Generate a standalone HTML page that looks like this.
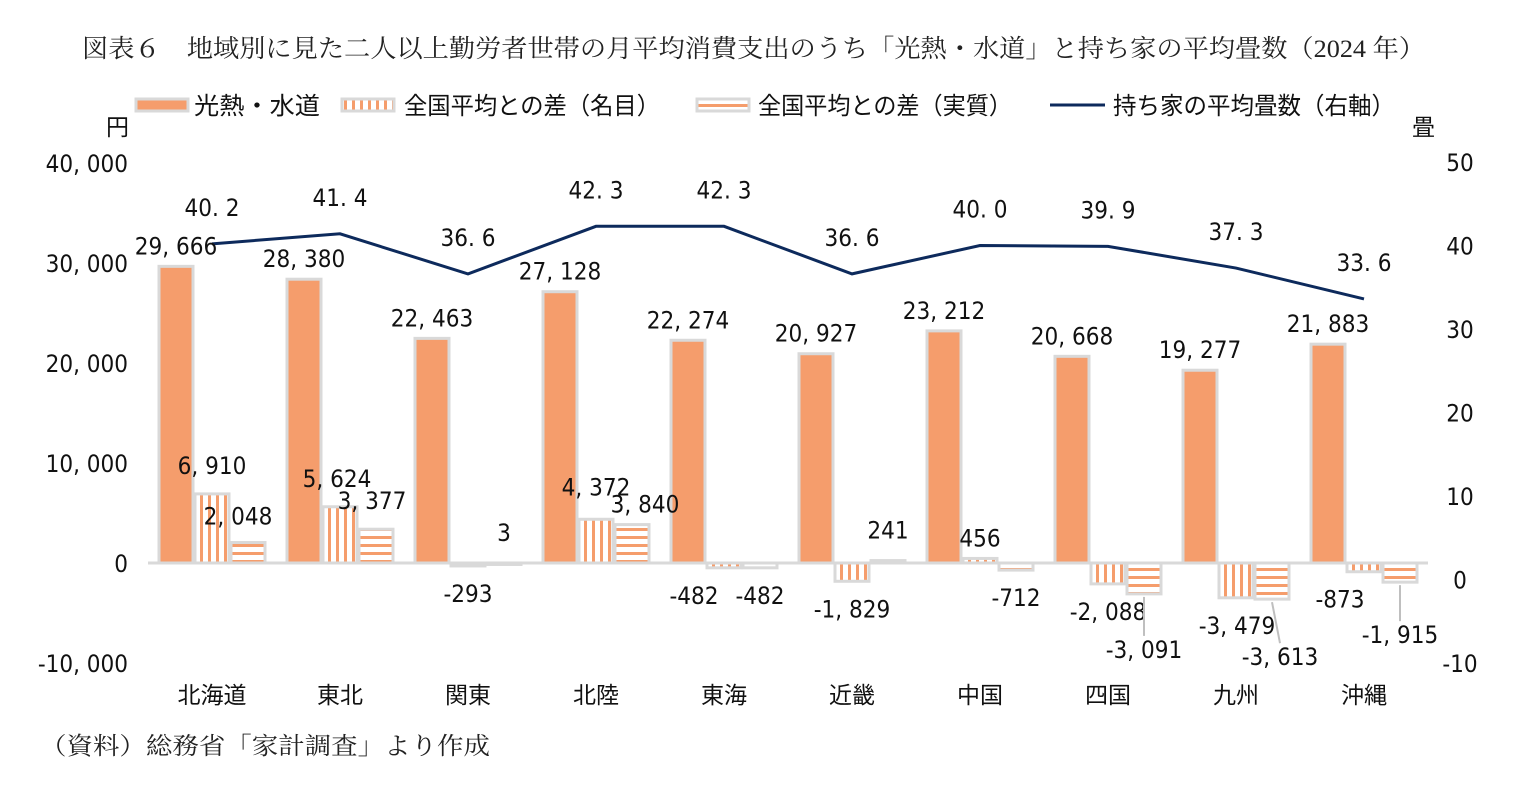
<!DOCTYPE html>
<html><head><meta charset="utf-8">
<style>
body{margin:0;background:#fff;}
svg{display:block;font-family:"Liberation Sans","Noto Sans CJK JP",sans-serif;}
.ser{font-family:"Liberation Serif","Noto Serif CJK SC",serif;}
.num{font-family:"Liberation Sans Narrow","DejaVu Sans Condensed","Liberation Sans",sans-serif;}
</style></head>
<body>
<svg id="c" width="1525" height="785" viewBox="0 0 1525 785">
<text class="ser" x="82" y="57" font-size="25" textLength="1343" lengthAdjust="spacingAndGlyphs" fill="#222">図表６　地域別に見た二人以上勤労者世帯の月平均消費支出のうち「光熱・水道」と持ち家の平均畳数（2024 年）</text>
<defs>
<pattern id="pv" width="8" height="8" patternUnits="userSpaceOnUse"><rect width="8" height="8" fill="#fff"/><rect x="0" width="3" height="8" fill="#f59d6c"/></pattern>
<pattern id="ph" width="8" height="8" patternUnits="userSpaceOnUse"><rect width="8" height="8" fill="#fff"/><rect y="0" width="8" height="3" fill="#f59d6c"/></pattern>
</defs>
<g>
<rect x="136" y="99" width="52" height="12" fill="#f59d6c" stroke="#d9d9d9" stroke-width="3"/>
<text x="194" y="114" font-size="24" textLength="126" lengthAdjust="spacingAndGlyphs" fill="#111">光熱・水道</text>
<rect x="342" y="99" width="52" height="12" fill="url(#pv)" stroke="#d9d9d9" stroke-width="3"/>
<text x="404" y="114" font-size="24" textLength="256" lengthAdjust="spacingAndGlyphs" fill="#111">全国平均との差（名目）</text>
<rect x="697" y="99" width="52" height="12" fill="url(#ph)" stroke="#d9d9d9" stroke-width="3"/>
<text x="758" y="114" font-size="24" textLength="254" lengthAdjust="spacingAndGlyphs" fill="#111">全国平均との差（実質）</text>
<line x1="1050" y1="105" x2="1105" y2="105" stroke="#0d2a5c" stroke-width="3"/>
<text x="1113" y="114" font-size="24" textLength="282" lengthAdjust="spacingAndGlyphs" fill="#111">持ち家の平均畳数（右軸）</text>
</g>
<text x="106" y="135" font-size="23" fill="#111">円</text>
<text x="1412" y="135" font-size="23" fill="#111">畳</text>
<g id="plot"></g>
<text class="ser" x="40" y="754" font-size="24" textLength="450" lengthAdjust="spacingAndGlyphs" fill="#222">（資料）総務省「家計調査」より作成</text>
</svg>
<script>
const categories=["北海道","東北","関東","北陸","東海","近畿","中国","四国","九州","沖縄"];
const utilities=[29666,28380,22463,27128,22274,20927,23212,20668,19277,21883];
const diffNominal=[6910,5624,-293,4372,-482,-1829,456,-2088,-3479,-873];
const diffReal=[2048,3377,3,3840,-482,241,-712,-3091,-3613,-1915];
const tatami=[40.2,41.4,36.6,42.3,42.3,36.6,40.0,39.9,37.3,33.6];
const leftTicks=[40000,30000,20000,10000,0,-10000];
const rightTicks=[50,40,30,20,10,0,-10];
// label nudges (layout only)
const nomDx=[0,-3,0,0,-30,0,0,0,1,-24];
const nomDy=[-8,-8,0,-12,0,0,0,0,0,0];
const realDx=[-10,-4,0,13,0,0,0,0,8,0];
const realDy=[-6,-8,-10,0,0,-10,0,28,30,25];
const NS="http://www.w3.org/2000/svg";
const g=document.getElementById('plot');
function yL(v){return 563-v*0.01;}
function yR(v){return 663-(v+10)*(501/60);}
function xC(i){return 212+i*128;}
function el(t,a,txt){const e=document.createElementNS(NS,t);for(const k in a)e.setAttribute(k,a[k]);if(txt!==undefined)e.textContent=txt;g.appendChild(e);return e;}
function fmt(v){const s=Math.abs(v).toLocaleString('en-US').replace(',',', ');return (v<0?'-':'')+s;}
leftTicks.forEach(t=>{const e=el('text',{class:'num',x:128,y:yL(t)+9,'font-size':24,'text-anchor':'end',fill:'#111'},fmt(t));

});
rightTicks.forEach(t=>{const e=el('text',{class:'num',x:1460,y:yR(t)+9,'font-size':24,'text-anchor':'middle',fill:'#111'},String(t));

});
const ax=el('line',{x1:148,x2:1428,y1:yL(0),y2:yL(0),stroke:'#d9d9d9','stroke-width':3});


function bar(x,v,fill,name){const y0=yL(0),y1=yL(v);const r=el('rect',{x:x,y:Math.min(y0,y1),width:34,height:Math.max(Math.abs(y1-y0),1.5),fill:fill,stroke:'#d9d9d9','stroke-width':3});

}
function lab(x,v,name,dx,dy){const y=(v>=0?yL(v)-12:yL(v)+36)+dy;
if(Math.abs(dy)>20){const l=el('line',{x1:x,x2:x+dx,y1:v>=0?yL(v):yL(v)+3,y2:v>=0?y+4:y-22,stroke:'#bfbfbf','stroke-width':2});

}
const t=el('text',{class:'num',x:x+dx,y:y,'font-size':24,'text-anchor':'middle',fill:'#111'},fmt(v));

}
categories.forEach((c,i)=>{const cx=xC(i);
bar(cx-53,utilities[i],'#f59d6c','bar-utilities');
bar(cx-17,diffNominal[i],'url(#pv)','bar-diff-nominal');
bar(cx+19,diffReal[i],'url(#ph)','bar-diff-real');
const t=el('text',{x:cx,y:703,'font-size':23,'text-anchor':'middle',fill:'#111'},c);

});
const pts=tatami.map((v,i)=>xC(i)+','+yR(v)).join(' ');
const pl=el('polyline',{points:pts,fill:'none',stroke:'#0d2a5c','stroke-width':3});


categories.forEach((c,i)=>{const cx=xC(i);
lab(cx-36,utilities[i],'label-utilities',0,0);
lab(cx,diffNominal[i],'label-diff-nominal',nomDx[i],nomDy[i]);
lab(cx+36,diffReal[i],'label-diff-real',realDx[i],realDy[i]);});
tatami.forEach((v,i)=>{const t=el('text',{class:'num',x:xC(i),y:yR(v)-28,'font-size':24,'text-anchor':'middle',fill:'#111'},v.toFixed(1).replace('.','. '));

});
</script>
</body></html>
